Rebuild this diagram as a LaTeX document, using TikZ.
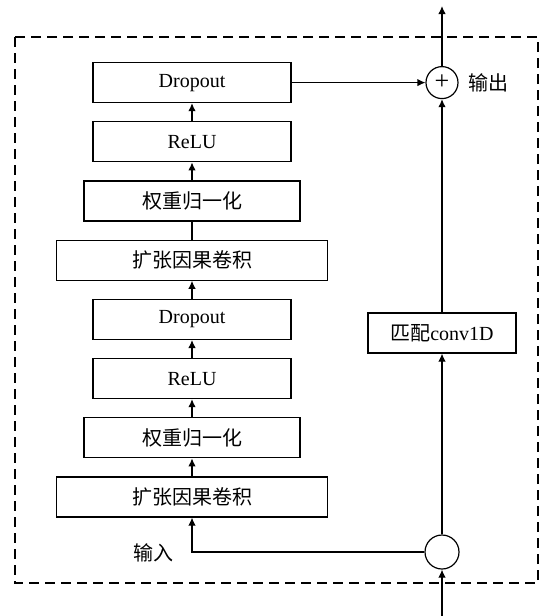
\documentclass[tikz,border=0pt]{standalone}
\usepackage{fontspec}
\setmainfont{Liberation Serif}
\newfontfamily\cjk{Noto Sans CJK SC}
\usepackage{tikz}
\usetikzlibrary{arrows.meta, positioning}
\tikzset{
	layer/.style    ={rectangle, draw=black, line width=1.2pt, minimum height=40pt, align=center, inner sep=2pt},
	addj/.style     ={circle, draw=black, line width=1.2pt, inner sep=0pt},
	flow/.style     ={-{Latex[length=8pt, width=7.5pt]}, line width=1.2pt},
	plain/.style    ={line width=1.2pt},
	blockframe/.style={draw=black, line width=1.2pt, dash pattern=on 10pt off 6pt},
}

\begin{document}
\begin{tikzpicture}[x=1pt, y=1pt, every node/.style={font=\fontsize{20}{24}\selectfont}, node distance=18pt]
	\useasboundingbox (0,0) rectangle (550,-616);
	\draw[blockframe] (15,-37) rectangle (538,-583);
	% residual branch, stacked from the bottom
	\node[layer, minimum width=271pt] (dil2) at (192,-497) {\cjk 扩张因果卷积};
	\node[layer, above=of dil2, minimum width=216pt] (wn2) {\cjk 权重归一化};
	\node[layer, above=of wn2, minimum width=198pt] (relu2) {ReLU};
	\node[layer, above=of relu2, minimum width=198pt] (drop2) {Dropout};
	\node[layer, above=of drop2, minimum width=271pt] (dil1) {\cjk 扩张因果卷积};
	\node[layer, above=of dil1, minimum width=216pt] (wn1) {\cjk 权重归一化};
	\node[layer, above=of wn1, minimum width=198pt] (relu1) {ReLU};
	\node[layer, above=of relu1, minimum width=198pt] (drop1) {Dropout};
	% shortcut branch
	\node[addj, minimum size=34pt] (split) at (442,-552) {};
	\node[layer, minimum width=148pt] (match) at (442,-333) {{\cjk 匹配}conv1D};
	\node[addj, minimum size=32pt, font=\fontsize{26}{26}\selectfont] (add) at (drop1 -| split) {+};
	\node[right=6pt of add] (out) {\cjk 输出};
	\node (in) at (153,-553) {\cjk 输入};
	\coordinate (src) at (442,-616);
	\coordinate (dst) at (442,-6);
	\draw[flow](src)--(split); \draw[flow](split)--(match); \draw[flow](match)--(add); \draw[flow](add)--(dst);
	\draw[flow](split.west)-|(dil2.south);
	\draw[flow](dil2)--(wn2); \draw[flow](wn2)--(relu2); \draw[flow](relu2)--(drop2); \draw[flow](drop2)--(dil1);
	\draw[plain](dil1)--(wn1); \draw[flow](wn1)--(relu1); \draw[flow](relu1)--(drop1);
	\draw[flow](drop1)--(add);
\end{tikzpicture}
\end{document}
